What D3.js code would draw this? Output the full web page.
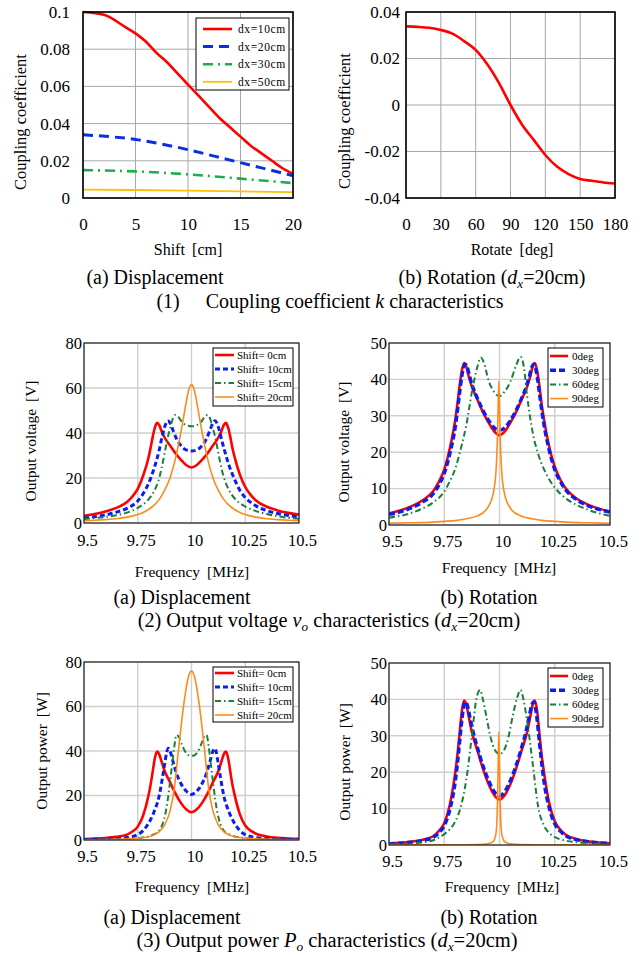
<!DOCTYPE html>
<html><head><meta charset="utf-8">
<script src="https://cdn.jsdelivr.net/npm/d3@7"></script>
<style>
body{margin:0;background:#fff}
svg{display:block}
text{font-family:"Liberation Serif","Times New Roman",serif;fill:#000}
</style>
</head><body>
<svg id="c" width="643" height="955"></svg>
<script>
// ---------------- DATA ----------------
// (1)(a) Coupling coefficient vs shift [cm]
const kShiftTicks = [0,5,10,15,20];
const kDispYTicks = [0,0.02,0.04,0.06,0.08,0.1];
const k_dx10 = [[0,0.1],[2,0.0985],[4,0.092],[5,0.0885],[6,0.084],[7,0.078],[8,0.073],[9,0.067],[10,0.061],[11,0.055],[12,0.049],[13,0.043],[14,0.038],[15,0.033],[16,0.028],[17,0.024],[18,0.020],[19,0.016],[20,0.013]];
const k_dx20 = [[0,0.034],[2.5,0.033],[5,0.0315],[7.5,0.029],[10,0.026],[12.5,0.0225],[15,0.019],[17.5,0.0155],[20,0.012]];
const k_dx30 = [[0,0.015],[5,0.0143],[10,0.0127],[15,0.0104],[20,0.008]];
const k_dx50 = [[0,0.0045],[5,0.0043],[10,0.0040],[15,0.0036],[20,0.0031]];
const kDispLabels = ["dx=10cm","dx=20cm","dx=30cm","dx=50cm"];

// (1)(b) Coupling coefficient vs rotation [deg]
const kRotXTicks = [0,30,60,90,120,150,180];
const kRotYTicks = [-0.04,-0.02,0,0.02,0.04];
const k_rot = [[0,0.0338],[10,0.0336],[20,0.0332],[30,0.0323],[40,0.0307],[50,0.0275],[60,0.0237],[70,0.0175],[80,0.0095],[90,0.0],[100,-0.0085],[110,-0.015],[120,-0.0215],[130,-0.0265],[140,-0.0297],[150,-0.0318],[160,-0.0326],[170,-0.0333],[180,-0.0338]];

// Frequency axis
const freqTicks = [9.5,9.75,10,10.25,10.5];

// (2)(a) Output voltage, displacement
const voDispYTicks = [0,20,40,60,80];
const vo_disp_0cm = [[9.5,3.2],[9.55,4.0],[9.6,5.1],[9.65,6.7],[9.7,9.3],[9.725,11.8],[9.75,15.2],[9.775,21],[9.8,29],[9.81,33.5],[9.82,38.5],[9.83,42.5],[9.84,44.5],[9.85,43.5],[9.86,41],[9.875,38],[9.9,34.5],[9.925,31],[9.95,28.2],[9.975,25.8],[10,24.7],[10.025,25.8],[10.05,28.2],[10.075,31],[10.1,34.5],[10.125,38],[10.14,41],[10.15,43.5],[10.16,44.5],[10.17,42.5],[10.18,38.5],[10.19,33.5],[10.2,29.5],[10.225,21.5],[10.25,16],[10.275,12.5],[10.3,10],[10.35,7.2],[10.4,5.6],[10.45,4.5],[10.5,3.7]];
const vo_disp_10cm = [[9.5,2.2],[9.55,2.8],[9.6,3.6],[9.65,4.8],[9.7,6.5],[9.75,9.8],[9.775,13],[9.8,17.5],[9.825,24],[9.85,32.5],[9.86,37],[9.87,41],[9.88,44],[9.89,45.5],[9.9,44.5],[9.915,41],[9.93,37.5],[9.95,34.5],[9.975,32.5],[10,32],[10.025,32.5],[10.05,34.5],[10.07,37.5],[10.085,41],[10.1,44.5],[10.11,45.5],[10.12,44],[10.13,41],[10.14,37],[10.15,33.5],[10.175,25.5],[10.2,19.5],[10.225,14.5],[10.25,11.3],[10.275,9.2],[10.3,7.6],[10.35,5.5],[10.4,4.2],[10.45,3.3],[10.5,2.7]];
const vo_disp_15cm = [[9.5,1.8],[9.55,2.2],[9.6,2.7],[9.65,3.4],[9.7,4.6],[9.75,6.7],[9.775,8.3],[9.8,10.5],[9.825,14],[9.85,20],[9.86,24],[9.875,31],[9.885,36],[9.9,42],[9.912,46],[9.925,48],[9.94,47],[9.955,45],[9.975,43.5],[10,43],[10.025,43.5],[10.045,45],[10.06,47],[10.075,48],[10.088,46],[10.1,42],[10.115,36],[10.125,31],[10.14,24],[10.15,20.5],[10.175,14.5],[10.2,11],[10.225,8.8],[10.25,7.3],[10.3,5.3],[10.35,4],[10.4,3],[10.45,2.3],[10.5,1.9]];
const vo_disp_20cm = [[9.5,1.0],[9.55,1.2],[9.6,1.5],[9.65,1.9],[9.7,2.6],[9.75,3.8],[9.775,4.7],[9.8,6],[9.825,7.8],[9.85,10.5],[9.875,14.5],[9.9,20],[9.925,28.5],[9.95,40],[9.965,48],[9.98,56],[9.99,60],[10,61.5],[10.01,60],[10.02,56],[10.035,48],[10.05,40],[10.075,28.5],[10.1,20],[10.125,14.5],[10.15,10.5],[10.175,7.8],[10.2,6],[10.225,4.7],[10.25,3.8],[10.3,2.6],[10.35,1.9],[10.4,1.5],[10.45,1.2],[10.5,1.0]];
const shiftLabels = ["Shift= 0cm","Shift= 10cm","Shift= 15cm","Shift= 20cm"];

// (2)(b) Output voltage, rotation
const voRotYTicks = [0,10,20,30,40,50];
const vo_rot_0deg = vo_disp_0cm;
const vo_rot_30deg = [[9.5,2.9],[9.55,3.6],[9.6,4.7],[9.65,6.2],[9.7,8.6],[9.725,10.9],[9.75,14.2],[9.775,19.5],[9.8,27],[9.81,31.5],[9.82,36.5],[9.83,41],[9.845,44.2],[9.855,43.2],[9.865,40.8],[9.88,37.8],[9.9,34.8],[9.925,31.5],[9.95,28.8],[9.975,26.8],[10,26],[10.025,26.8],[10.05,28.8],[10.075,31.5],[10.1,34.8],[10.12,37.8],[10.135,40.8],[10.145,43.2],[10.155,44.2],[10.17,41],[10.18,36.5],[10.19,32],[10.2,28],[10.225,20.5],[10.25,15.2],[10.275,12],[10.3,9.6],[10.35,6.9],[10.4,5.3],[10.45,4.3],[10.5,3.5]];
const vo_rot_60deg = [[9.5,2.0],[9.55,2.5],[9.6,3.3],[9.65,4.5],[9.7,6.2],[9.75,9.2],[9.775,12],[9.8,15.5],[9.825,21],[9.85,27.5],[9.875,36.5],[9.9,43.5],[9.915,46],[9.93,44.5],[9.95,39.8],[9.975,36.6],[10,35.4],[10.025,36.8],[10.05,39.5],[10.075,43.8],[10.095,46.2],[10.11,43.5],[10.125,35.5],[10.15,25.5],[10.175,19.5],[10.2,15.5],[10.225,12.5],[10.25,10.3],[10.3,7.3],[10.35,5.5],[10.4,4.2],[10.45,3.2],[10.5,2.5]];
const vo_rot_90deg = [[9.5,0.5],[9.6,0.6],[9.7,0.8],[9.75,1.0],[9.8,1.2],[9.85,1.7],[9.9,2.5],[9.937,4],[9.952,5.3],[9.967,7.5],[9.977,10.5],[9.982,13],[9.987,18],[9.991,25],[9.994,33],[9.997,39.5],[10.0,33],[10.003,25],[10.007,18],[10.012,13],[10.017,10.5],[10.027,7.5],[10.042,5.3],[10.057,4],[10.097,2.5],[10.147,1.7],[10.2,1.2],[10.25,1.0],[10.3,0.8],[10.4,0.6],[10.5,0.5]];
const degLabels = ["0deg","30deg","60deg","90deg"];

// (3)(a) Output power, displacement
const poDispYTicks = [0,20,40,60,80];
const po_disp_0cm = [[9.5,0.4],[9.55,0.6],[9.6,0.9],[9.65,1.4],[9.7,2.4],[9.725,3.8],[9.75,6],[9.775,11],[9.8,20],[9.81,25],[9.82,31],[9.83,37],[9.84,39.7],[9.85,38.5],[9.86,35.5],[9.875,31],[9.9,26],[9.925,21],[9.95,16.8],[9.975,13.8],[10,12.5],[10.025,13.8],[10.05,16.8],[10.075,21],[10.1,26],[10.125,31],[10.14,35.5],[10.15,38.5],[10.16,39.7],[10.17,37],[10.18,31],[10.19,25],[10.2,20.5],[10.225,11.5],[10.25,6.5],[10.275,4.2],[10.3,2.8],[10.35,1.6],[10.4,1.0],[10.45,0.7],[10.5,0.5]];
const po_disp_10cm = [[9.5,0.2],[9.55,0.3],[9.6,0.4],[9.65,0.65],[9.7,1.1],[9.75,2.4],[9.775,4.2],[9.8,7.5],[9.825,12.5],[9.85,20],[9.865,28],[9.875,34],[9.885,39.5],[9.892,41.2],[9.9,40],[9.915,35],[9.93,30],[9.95,25.5],[9.975,22],[10,20.5],[10.025,22],[10.05,25.5],[10.07,30],[10.085,35],[10.1,40],[10.108,41.2],[10.115,39.5],[10.125,34],[10.135,28],[10.15,20],[10.175,12.5],[10.2,7.5],[10.225,4.2],[10.25,2.4],[10.3,1.1],[10.35,0.65],[10.4,0.4],[10.45,0.3],[10.5,0.2]];
const po_disp_15cm = [[9.5,0.1],[9.6,0.2],[9.7,0.5],[9.75,0.9],[9.8,1.6],[9.825,2.5],[9.85,4.2],[9.865,7],[9.88,12.5],[9.89,18.5],[9.9,26],[9.91,34],[9.92,42],[9.93,47.2],[9.94,46.5],[9.955,43],[9.97,39.8],[9.985,38.2],[10,37.8],[10.015,38.2],[10.03,39.8],[10.045,43],[10.06,46.5],[10.07,47.2],[10.08,42],[10.09,34],[10.1,26],[10.11,18.5],[10.12,12.5],[10.135,7],[10.15,4.2],[10.175,2.5],[10.2,1.6],[10.25,0.9],[10.3,0.5],[10.4,0.2],[10.5,0.1]];
const po_disp_20cm = [[9.5,0.1],[9.6,0.2],[9.7,0.5],[9.75,0.9],[9.8,1.5],[9.825,2.3],[9.85,3.8],[9.875,6.8],[9.9,13],[9.92,23],[9.94,41],[9.955,54],[9.97,65],[9.985,73],[10,76],[10.015,73],[10.03,65],[10.045,54],[10.06,41],[10.08,23],[10.1,13],[10.125,6.8],[10.15,3.8],[10.175,2.3],[10.2,1.5],[10.25,0.9],[10.3,0.5],[10.4,0.2],[10.5,0.1]];

// (3)(b) Output power, rotation
const poRotYTicks = [0,10,20,30,40,50];
const po_rot_0deg = po_disp_0cm;
const po_rot_30deg = [[9.5,0.35],[9.55,0.5],[9.6,0.8],[9.65,1.2],[9.7,2.1],[9.725,3.3],[9.75,5.3],[9.775,9.6],[9.8,17.5],[9.81,22.5],[9.82,28.5],[9.83,34.5],[9.845,39.3],[9.855,38.3],[9.865,35.5],[9.88,31.2],[9.9,26.8],[9.925,21.8],[9.95,17.8],[9.975,14.8],[10,13.5],[10.025,14.8],[10.05,17.8],[10.075,21.8],[10.1,26.8],[10.12,31.2],[10.135,35.5],[10.145,38.3],[10.155,39.3],[10.17,34.5],[10.18,28.5],[10.19,23],[10.2,18],[10.225,10.2],[10.25,5.8],[10.275,3.8],[10.3,2.5],[10.35,1.4],[10.4,0.9],[10.45,0.6],[10.5,0.45]];
const po_rot_60deg = [[9.5,0.2],[9.6,0.4],[9.65,0.7],[9.7,1.3],[9.75,3],[9.775,4.3],[9.8,6.5],[9.825,10.5],[9.85,18],[9.875,30],[9.895,40],[9.912,42.6],[9.925,40],[9.94,35.5],[9.96,29.5],[9.98,26],[10,25],[10.02,26],[10.04,29.5],[10.06,35.5],[10.08,40.5],[10.095,42.6],[10.11,39.5],[10.125,34],[10.15,22.5],[10.175,10.5],[10.2,5.5],[10.225,3.3],[10.25,2.2],[10.3,1.2],[10.4,0.5],[10.5,0.25]];
const po_rot_90deg = [[9.5,0],[9.8,0.05],[9.9,0.1],[9.947,0.3],[9.972,1],[9.982,2.5],[9.987,5],[9.991,12],[9.994,22],[9.997,31],[10.0,22],[10.003,12],[10.007,5],[10.012,2.5],[10.022,1],[10.047,0.3],[10.1,0.1],[10.2,0.05],[10.5,0]];

// ---------------- DRAWING ----------------
const svg = d3.select('#c');
const SERIF = '"Liberation Serif","Times New Roman",serif';
let clipId = 0;

function drawPanel(o){
  const x = d3.scaleLinear().domain(o.xDomain).range([o.L,o.R]);
  const y = d3.scaleLinear().domain(o.yDomain).range([o.B,o.T]);
  const g = svg.append('g');
  const cid = 'clip'+(clipId++);
  g.append('clipPath').attr('id',cid).append('rect')
    .attr('x',o.L).attr('y',o.T-3).attr('width',o.R-o.L).attr('height',o.B-o.T+3);
  // grid
  const grid = g.append('g').attr('stroke',o.gridColor).attr('stroke-width',o.gridW);
  grid.selectAll('line.gv').data(o.xTicks).join('line').attr('class','gv')
    .attr('x1',d=>x(d)).attr('x2',d=>x(d)).attr('y1',o.T).attr('y2',o.B);
  grid.selectAll('line.gh').data(o.yTicks).join('line').attr('class','gh')
    .attr('x1',o.L).attr('x2',o.R).attr('y1',d=>y(d)).attr('y2',d=>y(d));
  // series
  const line = d3.line().x(d=>x(d[0])).y(d=>y(d[1])).curve(d3.curveMonotoneX);
  const sg = g.append('g').attr('clip-path',`url(#${cid})`);
  o.series.forEach(s=>{
    sg.append('path').datum(s.data).attr('d',line).attr('fill','none')
      .attr('stroke',s.color).attr('stroke-width',s.width)
      .attr('stroke-dasharray',s.dash||null).attr('stroke-linejoin','round');
  });
  // frame
  g.append('rect').attr('x',o.L).attr('y',o.T).attr('width',o.R-o.L).attr('height',o.B-o.T)
    .attr('fill','none').attr('stroke',o.frameColor).attr('stroke-width',o.frameW);
  // axes
  const fmt = d=>String(+d.toFixed(3));
  const ax = g.append('g').attr('transform',`translate(${o.xLabShift||0},${o.B})`)
    .call(d3.axisBottom(x).tickValues(o.xTicks).tickSize(0).tickPadding(o.xPad).tickFormat(fmt));
  ax.select('.domain').remove();
  ax.attr('font-family',SERIF).attr('font-size',o.tickFs);
  const ay = g.append('g').attr('transform',`translate(${o.L},0)`)
    .call(d3.axisLeft(y).tickValues(o.yTicks).tickSize(0).tickPadding(o.yPad).tickFormat(fmt));
  ay.select('.domain').remove();
  ay.attr('font-family',SERIF).attr('font-size',o.tickFs);
  // axis titles
  const xt = g.append('text').attr('x',o.xTitle.x).attr('y',o.xTitle.y)
    .attr('text-anchor','middle').attr('font-size',o.titleFs);
  xt.append('tspan').text(o.xTitle.a);
  xt.append('tspan').attr('dx',o.titleFs*0.45).text(o.xTitle.b);
  const yt = g.append('text').attr('transform',`translate(${o.yTitle.x},${o.yTitle.y}) rotate(-90)`)
    .attr('text-anchor','middle').attr('dy','0.35em').attr('font-size',o.yTitle.fs||o.titleFs);
  yt.append('tspan').text(o.yTitle.a);
  if(o.yTitle.b) yt.append('tspan').attr('dx',(o.yTitle.fs||o.titleFs)*0.45).text(o.yTitle.b);
  // legend
  const L = o.legend;
  if(!L) return;
  const lg = g.append('g').attr('transform',`translate(${L.x},${L.y})`);
  lg.append('rect').attr('width',L.w).attr('height',L.h).attr('fill','#fff')
    .attr('stroke','#000').attr('stroke-width',1);
  o.series.forEach((s,i)=>{
    const yy = L.r0 + i*L.dy;
    lg.append('line').attr('x1',L.lx0).attr('x2',L.lx1).attr('y1',yy).attr('y2',yy)
      .attr('stroke',s.color).attr('stroke-width',s.width).attr('stroke-dasharray',s.dash||null);
    lg.append('text').attr('x',L.tx).attr('y',yy).attr('dy','0.35em')
      .attr('font-size',L.fs).attr('letter-spacing',L.ls||0).text(L.labels[i]);
  });
}

// Panel (1)(a)
drawPanel({
  L:83,R:293,T:12,B:198, xDomain:[0,20], yDomain:[0,0.1],
  xTicks:kShiftTicks, yTicks:kDispYTicks,
  gridColor:'#a8a8a8', gridW:1, frameColor:'#000', frameW:1.6,
  tickFs:17, xPad:20, yPad:13,
  titleFs:16, xTitle:{x:188,y:255,a:'Shift',b:'[cm]'},
  yTitle:{x:20,y:122,a:'Coupling coefficient',fs:16.5},
  series:[
    {data:k_dx10,color:'#ff0000',width:2.6},
    {data:k_dx20,color:'#0a2ee0',width:3,dash:'10,6'},
    {data:k_dx30,color:'#19b04a',width:2.6,dash:'10,5,2,5'},
    {data:k_dx50,color:'#ffc000',width:1.8}
  ],
  legend:{x:196,y:18,w:93,h:72,r0:11,dy:17.6,lx0:7,lx1:36,tx:42,fs:11.5,ls:0.6,labels:kDispLabels}
});

// Panel (1)(b)
drawPanel({
  L:406,R:615,T:12,B:198, xDomain:[0,180], yDomain:[-0.04,0.04],
  xTicks:kRotXTicks, yTicks:kRotYTicks,
  gridColor:'#a8a8a8', gridW:1, frameColor:'#000', frameW:1.6,
  tickFs:17, xPad:20, yPad:6,
  titleFs:16, xTitle:{x:512,y:255,a:'Rotate',b:'[deg]'},
  yTitle:{x:344,y:121,a:'Coupling coefficient',fs:16.5},
  series:[{data:k_rot,color:'#ff0000',width:2.6}],
  legend:null
});

// Panel (2)(a)
drawPanel({
  L:84,R:299,T:343,B:523, xDomain:[9.5,10.5], yDomain:[0,80],
  xTicks:freqTicks, yTicks:voDispYTicks,
  gridColor:'#cfcfcf', gridW:1.4, frameColor:'#222', frameW:1.2,
  tickFs:16.5, xPad:11, yPad:2, xLabShift:3,
  titleFs:15.5, xTitle:{x:192,y:577,a:'Frequency',b:'[MHz]'},
  yTitle:{x:31,y:441,a:'Output voltage',b:'[V]'},
  series:[
    {data:vo_disp_0cm,color:'#ff0000',width:2.6},
    {data:vo_disp_10cm,color:'#0a1ef0',width:3,dash:'5,3'},
    {data:vo_disp_15cm,color:'#1a7f3c',width:2,dash:'6,3,1.5,3'},
    {data:vo_disp_20cm,color:'#ff8a1c',width:1.6}
  ],
  legend:{x:213,y:348,w:80,h:58,r0:7,dy:14,lx0:2,lx1:21,tx:24,fs:11,labels:shiftLabels}
});

// Panel (2)(b)
drawPanel({
  L:389,R:610,T:343,B:525, xDomain:[9.5,10.5], yDomain:[0,50],
  xTicks:freqTicks, yTicks:voRotYTicks,
  gridColor:'#cfcfcf', gridW:1.4, frameColor:'#222', frameW:1.2,
  tickFs:16.5, xPad:10, yPad:2, xLabShift:3,
  titleFs:15.5, xTitle:{x:499,y:573,a:'Frequency',b:'[MHz]'},
  yTitle:{x:344,y:442,a:'Output voltage',b:'[V]'},
  series:[
    {data:vo_rot_0deg,color:'#ff0000',width:2.6},
    {data:vo_rot_30deg,color:'#0a1ef0',width:3.4,dash:'6,3'},
    {data:vo_rot_60deg,color:'#1a7f3c',width:2,dash:'6,3,1.5,3'},
    {data:vo_rot_90deg,color:'#ff8a1c',width:1.6}
  ],
  legend:{x:548,y:348,w:55,h:59,r0:8,dy:14.2,lx0:2,lx1:20,tx:24,fs:11,labels:degLabels}
});

// Panel (3)(a)
drawPanel({
  L:84,R:299,T:662,B:840, xDomain:[9.5,10.5], yDomain:[0,80],
  xTicks:freqTicks, yTicks:poDispYTicks,
  gridColor:'#cfcfcf', gridW:1.4, frameColor:'#222', frameW:1.2,
  tickFs:16.5, xPad:10, yPad:2, xLabShift:3,
  titleFs:15.5, xTitle:{x:192,y:892,a:'Frequency',b:'[MHz]'},
  yTitle:{x:42,y:751,a:'Output power',b:'[W]'},
  series:[
    {data:po_disp_0cm,color:'#ff0000',width:2.6},
    {data:po_disp_10cm,color:'#0a1ef0',width:3,dash:'5,3'},
    {data:po_disp_15cm,color:'#1a7f3c',width:2,dash:'6,3,1.5,3'},
    {data:po_disp_20cm,color:'#ff8a1c',width:1.6}
  ],
  legend:{x:213,y:667,w:80,h:55,r0:6,dy:14,lx0:2,lx1:21,tx:24,fs:11,labels:shiftLabels}
});

// Panel (3)(b)
drawPanel({
  L:389,R:610,T:663,B:845, xDomain:[9.5,10.5], yDomain:[0,50],
  xTicks:freqTicks, yTicks:poRotYTicks,
  gridColor:'#cfcfcf', gridW:1.4, frameColor:'#222', frameW:1.2,
  tickFs:16.5, xPad:10, yPad:2, xLabShift:3,
  titleFs:15.5, xTitle:{x:502,y:892,a:'Frequency',b:'[MHz]'},
  yTitle:{x:344.5,y:762,a:'Output power',b:'[W]'},
  series:[
    {data:po_rot_0deg,color:'#ff0000',width:2.6},
    {data:po_rot_30deg,color:'#0a1ef0',width:3.4,dash:'6,3'},
    {data:po_rot_60deg,color:'#1a7f3c',width:2,dash:'6,3,1.5,3'},
    {data:po_rot_90deg,color:'#ff8a1c',width:1.6}
  ],
  legend:{x:548,y:668,w:55,h:59,r0:8,dy:14.2,lx0:2,lx1:20,tx:24,fs:11,labels:degLabels}
});

// ---------------- CAPTIONS ----------------
const capFs = 20;
function cap(x,y,parts,fs){
  const f = fs||capFs;
  const t = svg.append('text').attr('x',x).attr('y',y).attr('text-anchor','middle').attr('font-size',f);
  parts.forEach(p=>{
    const s = t.append('tspan').text(p.t);
    if(p.i) s.attr('font-style','italic');
    if(p.sub){ s.attr('font-size',f*0.65).attr('dy',4); }
    if(p.up) s.attr('dy',-4);
    if(p.dx) s.attr('dx',p.dx);
  });
}
cap(155,284,[{t:'(a) Displacement'}]);
cap(492,284,[{t:'(b) Rotation ('},{t:'d',i:1},{t:'x',i:1,sub:1},{t:'=20cm)',up:1}]);
cap(330,308,[{t:'(1)'},{t:'Coupling coefficient ',dx:26},{t:'k',i:1},{t:' characteristics'}]);

cap(182,604,[{t:'(a) Displacement'}]);
cap(489,604,[{t:'(b) Rotation'}]);
cap(329,627,[{t:'(2) Output voltage '},{t:'v',i:1},{t:'o',i:1,sub:1},{t:' characteristics (',up:1},{t:'d',i:1},{t:'x',i:1,sub:1},{t:'=20cm)',up:1}],20.3);

cap(172,924,[{t:'(a) Displacement'}]);
cap(489,924,[{t:'(b) Rotation'}]);
cap(327,947,[{t:'(3) Output power '},{t:'P',i:1},{t:'o',i:1,sub:1},{t:' characteristics (',up:1},{t:'d',i:1},{t:'x',i:1,sub:1},{t:'=20cm)',up:1}],20.5);
</script>
</body></html>
